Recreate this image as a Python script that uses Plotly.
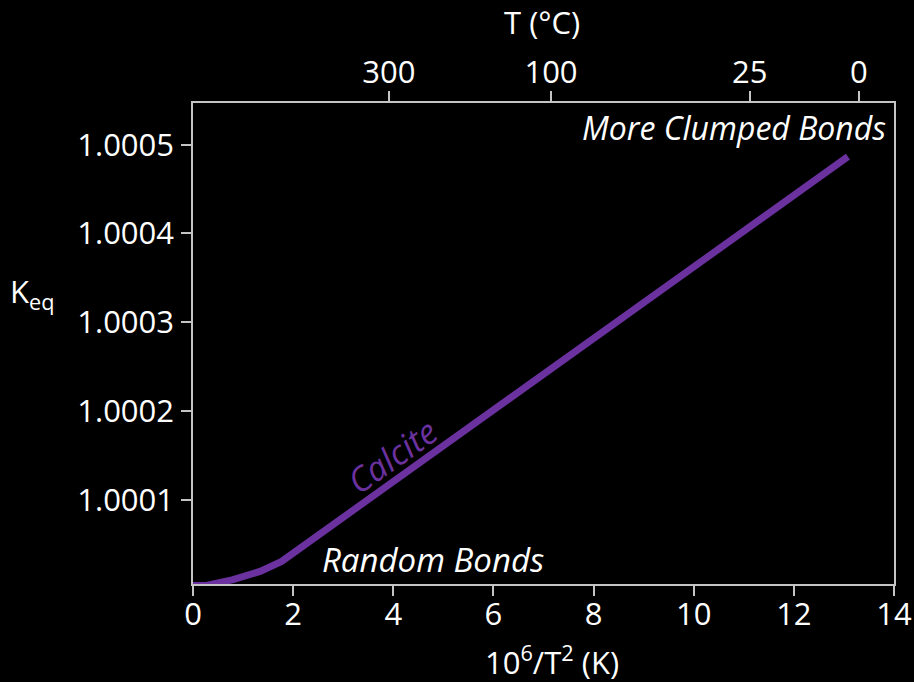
import plotly.graph_objects as go

# Calcite clumped-isotope equilibrium curve
x_inv_t2 = [0.0, 0.27, 0.80, 1.34, 1.77, 4.0, 8.0, 13.08]
k_eq = [1.0000034, 1.0000034, 1.0000099, 1.0000192, 1.0000305, 1.0001204, 1.0002816, 1.0004865]

x_ticks = [0, 2, 4, 6, 8, 10, 12, 14]
y_ticks = [1.0001, 1.0002, 1.0003, 1.0004, 1.0005]
y_tick_labels = ["1.0001", "1.0002", "1.0003", "1.0004", "1.0005"]

# Temperature (°C) scale on the top axis
t_tick_pos = [3.91, 7.15, 11.12, 13.30]
t_tick_labels = ["300", "100", "25", "0"]

FONT = "Open Sans"
AXIS_COLOR = "#c4c4c4"
PURPLE = "#6a319f"
X_RANGE = [0, 14]
Y_RANGE = [1.000005, 1.000547]

fig = go.Figure()
fig.add_trace(go.Scatter(
    x=x_inv_t2, y=k_eq, mode="lines",
    line=dict(color=PURPLE, width=7),
    showlegend=False, hoverinfo="skip",
))
# invisible trace to activate the top axis
fig.add_trace(go.Scatter(
    x=[t_tick_pos[0]], y=[k_eq[0]], xaxis="x2", mode="markers",
    marker=dict(opacity=0), showlegend=False, hoverinfo="skip",
))

axis_common = dict(
    showgrid=False, zeroline=False, showline=True, automargin=False,
    linecolor=AXIS_COLOR, linewidth=1.5,
    ticks="outside", ticklen=10, tickwidth=1.5, tickcolor=AXIS_COLOR,
    tickfont=dict(family=FONT, size=31, color="white"),
)

fig.update_layout(
    width=914, height=682,
    margin=dict(l=193, r=20, t=103, b=98),
    paper_bgcolor="black", plot_bgcolor="black",
    xaxis=dict(range=X_RANGE, tickvals=x_ticks, ticklabelstandoff=-8,
               ticklabeloverflow="allow", **axis_common),
    xaxis2=dict(range=X_RANGE, overlaying="x", side="top", anchor="y",
                tickvals=t_tick_pos, ticktext=t_tick_labels, ticklabelstandoff=-4,
                ticklabeloverflow="allow", **axis_common),
    yaxis=dict(range=Y_RANGE, tickvals=y_ticks, ticktext=y_tick_labels,
               mirror=True, ticklabelstandoff=1, **axis_common),
    annotations=[
        dict(text="10<sup>6</sup>/T<sup>2</sup> (K)", xref="paper", yref="paper",
             x=0.512, y=-0.159, xanchor="center", yanchor="middle", showarrow=False,
             font=dict(family=FONT, size=31, color="white")),
        dict(text="T (°C)", xref="paper", yref="paper",
             x=0.498, y=1.168, xanchor="center", yanchor="middle", showarrow=False,
             font=dict(family=FONT, size=31, color="white")),
        dict(text="K<sub>eq</sub>", xref="paper", yref="paper",
             x=-0.264, y=0.605, xanchor="left", yanchor="middle", showarrow=False,
             font=dict(family=FONT, size=31, color="white")),
        dict(text="<i>More Clumped Bonds</i>", x=13.88, y=1.000519,
             xanchor="right", yanchor="middle", showarrow=False,
             font=dict(family=FONT, size=32, color="white")),
        dict(text="<i>Random Bonds</i>", x=2.54, y=1.0000324,
             xanchor="left", yanchor="middle", showarrow=False,
             font=dict(family=FONT, size=33, color="white")),
        dict(text="<i>Calcite</i>", x=3.97, y=1.0001496, textangle=-35.6,
             showarrow=False, font=dict(family=FONT, size=34, color=PURPLE)),
    ],
)

fig.write_html("out.html")
